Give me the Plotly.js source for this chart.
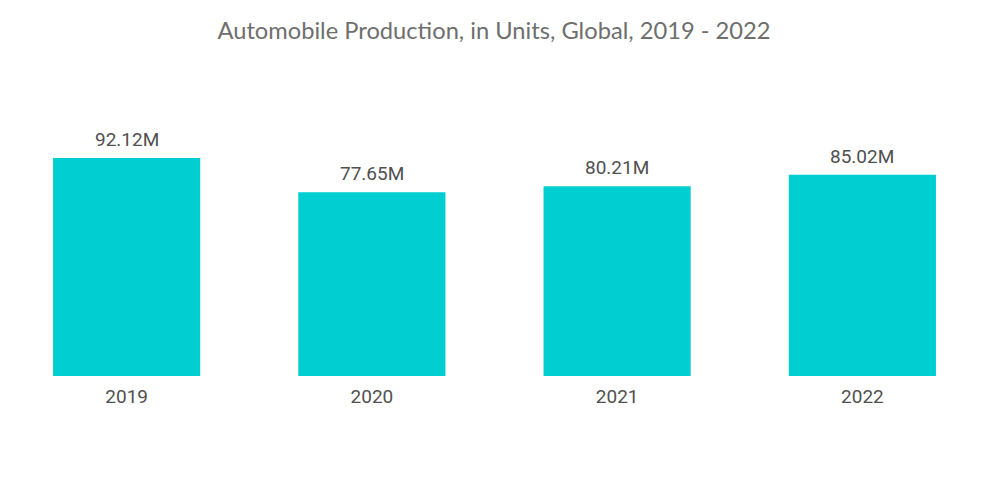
<!DOCTYPE html>
<html>
<head>
<meta charset="utf-8">
<script src="https://cdn.plot.ly/plotly-3.0.1.min.js"></script>
<style>html,body{margin:0;padding:0;background:#fff;}#chart{width:1000px;height:504px;}</style>
</head>
<body>
<div id="chart"></div>
<script>
const years = ["2019", "2020", "2021", "2022"];
const production = [92.12, 77.65, 80.21, 85.02];
const labels = ["92.12M", "77.65M", "80.21M", "85.02M"];

const trace = {
  type: "bar",
  x: years,
  y: production,
  marker: {color: "#00CED1"},
  hoverinfo: "x+y"
};

// category axis: annotation x given as the category index
const annotations = years.map((yr, i) => ({
  x: i, y: production[i], xref: "x", yref: "y",
  text: labels[i], showarrow: false,
  yanchor: "bottom", yshift: 5,
  font: {family: "Roboto, sans-serif", size: 19, color: "#505050"}
}));

const layout = {
  width: 1000,
  height: 504,
  paper_bgcolor: "#ffffff",
  plot_bgcolor: "#ffffff",
  margin: {l: 4, r: 15, t: 100, b: 128},
  bargap: 0.4,
  title: {
    text: "Automobile Production, in Units, Global, 2019 - 2022",
    font: {family: "Lato, 'Open Sans', sans-serif", size: 23.7, color: "#6e6e6e"},
    x: 0.494, xanchor: "center",
    y: 0.94, yanchor: "middle", yref: "container"
  },
  xaxis: {
    type: "category",
    showgrid: false, zeroline: false, showline: false,
    ticks: "", ticklabelstandoff: 7,
    tickfont: {family: "Roboto, sans-serif", size: 19, color: "#505050"}
  },
  yaxis: {
    range: [0, 116.6],
    visible: false,
    showgrid: false, zeroline: false
  },
  annotations: annotations,
  showlegend: false
};

Plotly.newPlot("chart", [trace], layout, {displayModeBar: false, staticPlot: true});
</script>
</body>
</html>
